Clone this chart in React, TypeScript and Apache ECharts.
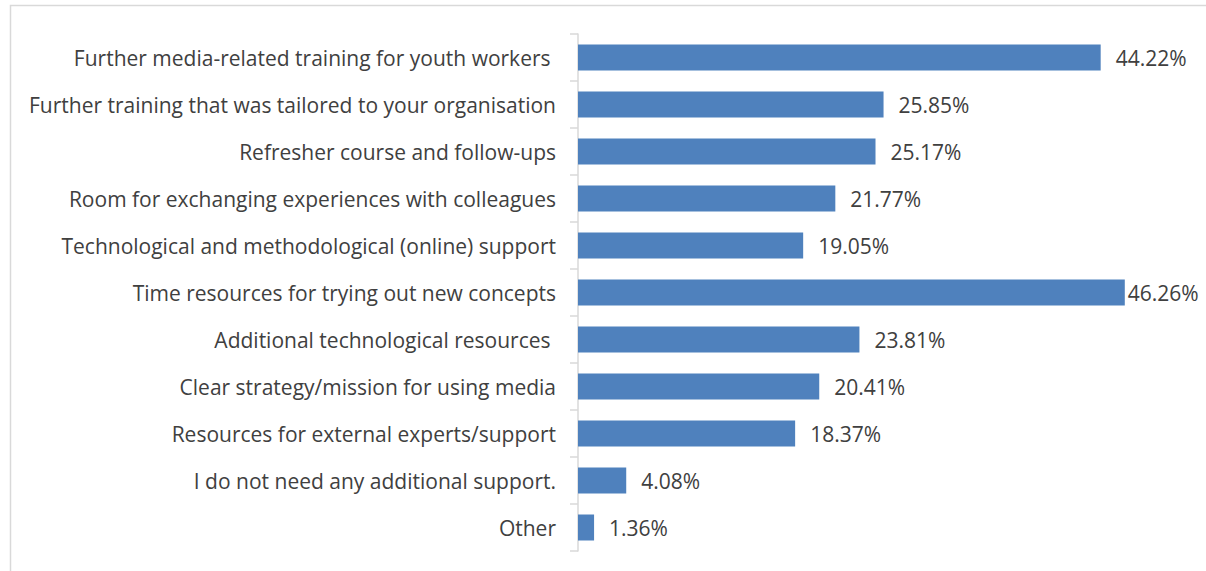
import React, { useEffect, useRef } from "react";
import * as echarts from "echarts";

const categories = [
  "Further media-related training for youth workers ",
  "Further training that was tailored to your organisation",
  "Refresher course and follow-ups",
  "Room for exchanging experiences with colleagues",
  "Technological and methodological (online) support",
  "Time resources for trying out new concepts",
  "Additional technological resources ",
  "Clear strategy/mission for using media",
  "Resources for external experts/support",
  "I do not need any additional support.",
  "Other",
];
const values = [44.22, 25.85, 25.17, 21.77, 19.05, 46.26, 23.81, 20.41, 18.37, 4.08, 1.36];

const FONT = "'Open Sans', sans-serif";

export default function App() {
  const ref = useRef<HTMLDivElement>(null);
  useEffect(() => {
    if (!ref.current) return;
    const chart = echarts.init(ref.current, undefined, { renderer: "svg" });
    const maxVal = Math.max(...values);
    chart.setOption({
      animation: false,
      backgroundColor: "#ffffff",
      grid: { left: 578, right: 37, top: 34, bottom: 20, containLabel: false },
      xAxis: {
        type: "value",
        min: 0,
        max: 50,
        show: false,
      },
      yAxis: {
        type: "category",
        data: categories,
        inverse: true,
        axisLine: { show: true, lineStyle: { color: "#D9D9D9", width: 1.5 } },
        axisTick: { show: true, length: 8, lineStyle: { color: "#D9D9D9", width: 1.5 } },
        axisLabel: {
          color: "#404040",
          fontSize: 21,
          fontFamily: FONT,
          margin: 22,
        },
        splitLine: { show: false },
      },
      series: [
        {
          type: "bar",
          data: values.map((v) =>
            v === maxVal ? { value: v, label: { distance: 3 } } : v
          ),
          barWidth: 26,
          itemStyle: { color: "#4F81BD" },
          label: {
            show: true,
            position: "right",
            distance: 15,
            color: "#404040",
            fontSize: 21,
            fontFamily: FONT,
            formatter: (p: any) => p.value.toFixed(2) + "%",
          },
        },
      ],
      graphic: [
        {
          type: "polyline",
          shape: { points: [[10.5, 700], [10.5, 5.5], [1300, 5.5]] },
          style: { stroke: "#D9D9D9", lineWidth: 1.5, fill: null },
          silent: true,
        },
      ],
    });
    return () => chart.dispose();
  }, []);
  return (
    <div
      ref={ref}
      style={{ position: "absolute", left: 0, top: 0, width: 1206, height: 571 }}
    />
  );
}
